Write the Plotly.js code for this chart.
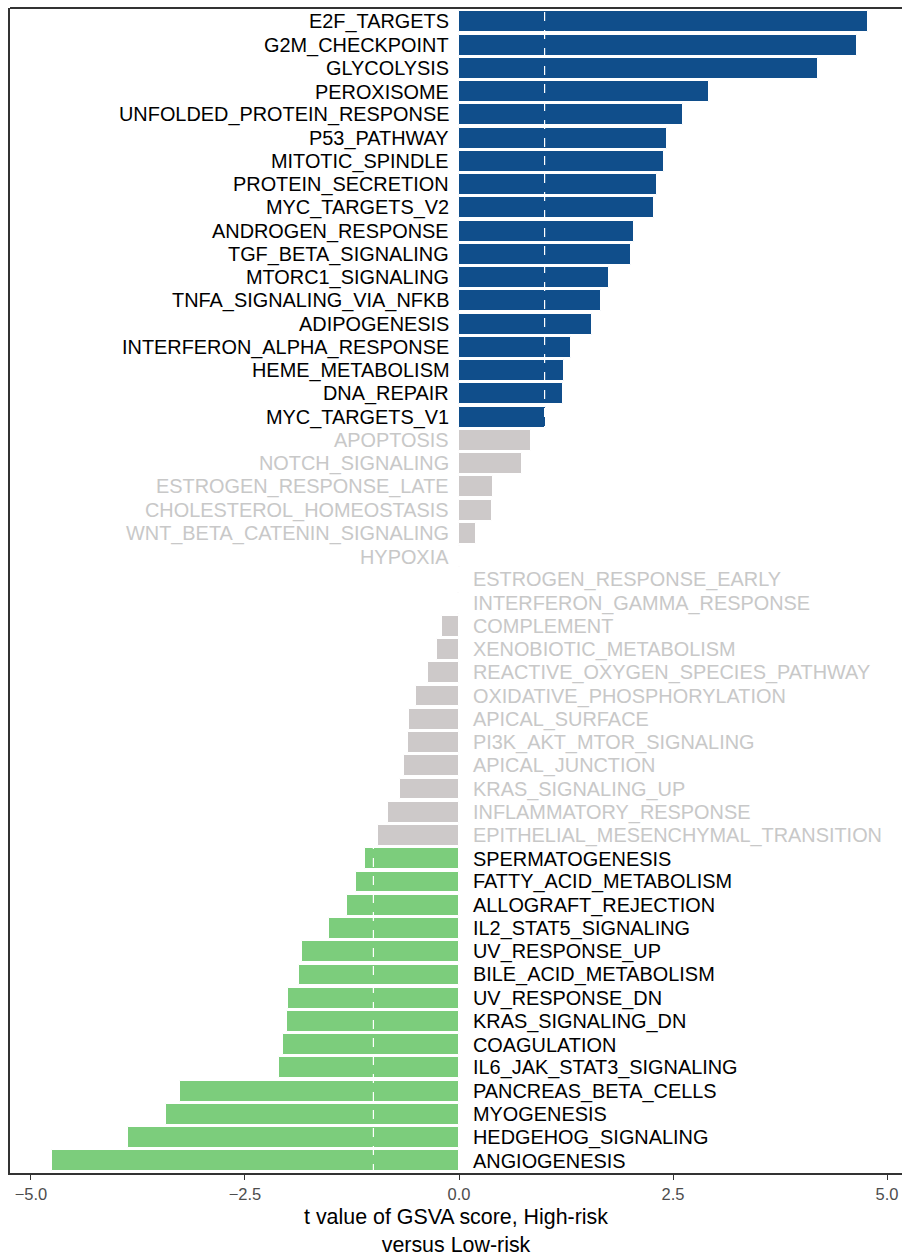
<!DOCTYPE html>
<html><head><meta charset="utf-8">
<script src="https://cdn.plot.ly/plotly-3.0.1.min.js"></script>
<style>body{margin:0;background:#fff}#chart{width:902px;height:1257px}</style>
</head><body><div id="chart"></div>
<script>
const pathways = ["E2F_TARGETS","G2M_CHECKPOINT","GLYCOLYSIS","PEROXISOME","UNFOLDED_PROTEIN_RESPONSE","P53_PATHWAY","MITOTIC_SPINDLE","PROTEIN_SECRETION","MYC_TARGETS_V2","ANDROGEN_RESPONSE","TGF_BETA_SIGNALING","MTORC1_SIGNALING","TNFA_SIGNALING_VIA_NFKB","ADIPOGENESIS","INTERFERON_ALPHA_RESPONSE","HEME_METABOLISM","DNA_REPAIR","MYC_TARGETS_V1","APOPTOSIS","NOTCH_SIGNALING","ESTROGEN_RESPONSE_LATE","CHOLESTEROL_HOMEOSTASIS","WNT_BETA_CATENIN_SIGNALING","HYPOXIA","ESTROGEN_RESPONSE_EARLY","INTERFERON_GAMMA_RESPONSE","COMPLEMENT","XENOBIOTIC_METABOLISM","REACTIVE_OXYGEN_SPECIES_PATHWAY","OXIDATIVE_PHOSPHORYLATION","APICAL_SURFACE","PI3K_AKT_MTOR_SIGNALING","APICAL_JUNCTION","KRAS_SIGNALING_UP","INFLAMMATORY_RESPONSE","EPITHELIAL_MESENCHYMAL_TRANSITION","SPERMATOGENESIS","FATTY_ACID_METABOLISM","ALLOGRAFT_REJECTION","IL2_STAT5_SIGNALING","UV_RESPONSE_UP","BILE_ACID_METABOLISM","UV_RESPONSE_DN","KRAS_SIGNALING_DN","COAGULATION","IL6_JAK_STAT3_SIGNALING","PANCREAS_BETA_CELLS","MYOGENESIS","HEDGEHOG_SIGNALING","ANGIOGENESIS"];
const tValues = [4.78,4.65,4.19,2.92,2.62,2.43,2.39,2.31,2.28,2.04,2.01,1.75,1.66,1.55,1.31,1.23,1.21,1.02,0.84,0.74,0.40,0.39,0.20,0.01,-0.005,-0.01,-0.20,-0.26,-0.36,-0.50,-0.58,-0.60,-0.64,-0.69,-0.83,-0.95,-1.10,-1.20,-1.31,-1.52,-1.83,-1.87,-2.00,-2.01,-2.06,-2.10,-3.26,-3.42,-3.87,-4.75];
const cutoff = 1;
const xTicks = [-5, -2.5, 0, 2.5, 5];
const xTickLabels = ["\u22125.0","\u22122.5","0.0","2.5","5.0"];

const group = tValues.map(v => v > cutoff ? "up" : (v < -cutoff ? "down" : "ns"));
const barColors = {up:"#104E8B", down:"#7CCD7C", ns:"#CDC9C9"};
const textColors = {up:"#000000", down:"#000000", ns:"#C8C8C8"};
const FONT = "Liberation Sans, Arial, sans-serif";

const trace = {
  type:"bar", orientation:"h",
  x: tValues, y: pathways,
  marker:{color: group.map(g=>barColors[g]), line:{color:"#ffffff", width:1}},
  width:0.9, hoverinfo:"x+y"
};

const annotations = pathways.map((p,i)=>({
  x:0, y:p, xref:"x", yref:"y", text:p, showarrow:false,
  xanchor: tValues[i] > 0 ? "right" : "left",
  xshift: tValues[i] > 0 ? -8 : 12,
  font:{family:FONT, size:19.9, color:textColors[group[i]]}
}));

const layout = {
  width:902, height:1257,
  margin:{l:10, r:0, t:8, b:84},
  paper_bgcolor:"#fff", plot_bgcolor:"#fff",
  showlegend:false,
  bargap:0,
  xaxis:{
    range:[-5.245,5.175], tickvals:xTicks, ticktext:xTickLabels,
    ticks:"outside", ticklen:5, tickcolor:"#333", tickwidth:1,
    tickfont:{family:FONT, size:16.5, color:"#4d4d4d"},
    showgrid:false, zeroline:false,
    showline:true, linecolor:"#333", linewidth:1.8,
    title:{text:"t value of GSVA score, High-risk<br>versus Low-risk", standoff:11,
      font:{family:FONT, size:21.4, color:"#000"}}
  },
  yaxis:{
    type:"category", categoryorder:"array", categoryarray:pathways, autorange:false,
    showticklabels:false, ticks:"", showgrid:false, zeroline:false,
    showline:true, linecolor:"#333", linewidth:1.8,
    range:[pathways.length-0.48, -0.6]
  },
  shapes:[cutoff,-cutoff].map(c=>({type:"line", xref:"x", yref:"paper", x0:c, x1:c, y0:0, y1:1,
    line:{color:"#ffffff", width:1.2, dash:"dash"}, layer:"above"})).concat([
    {type:"line", xref:"paper", yref:"paper", x0:0, x1:1, y0:1, y1:1, line:{color:"#333", width:1.8}, layer:"above"}
  ]),
  annotations: annotations
};

Plotly.newPlot("chart",[trace],layout,{displayModeBar:false});
</script></body></html>
